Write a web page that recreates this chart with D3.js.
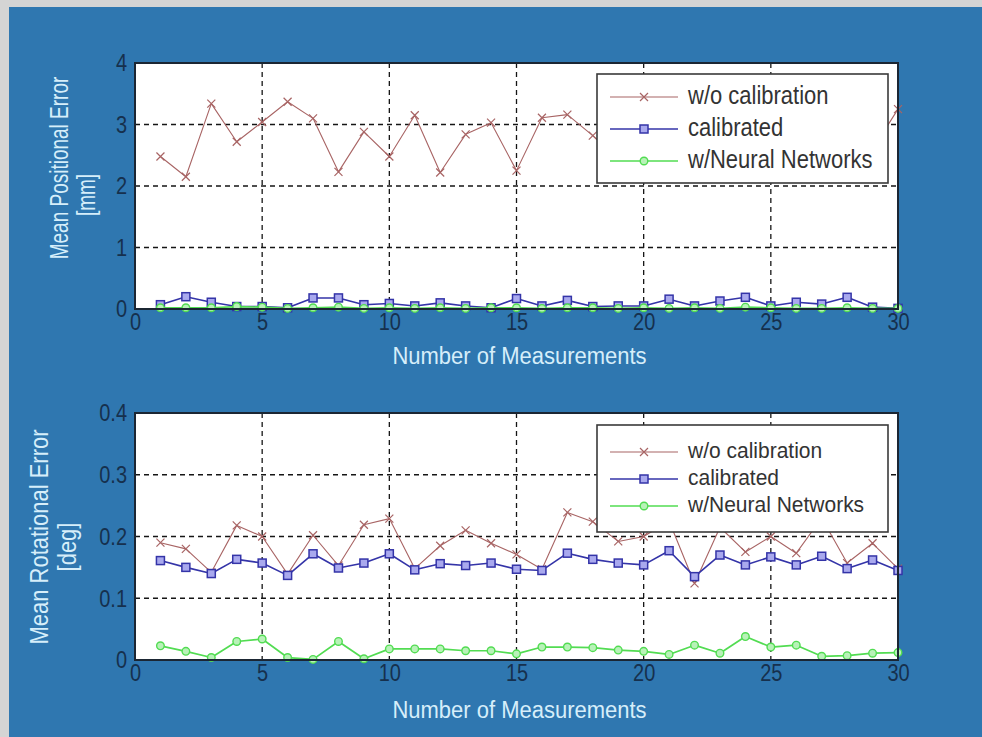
<!DOCTYPE html>
<html>
<head>
<meta charset="utf-8">
<script src="https://cdn.jsdelivr.net/npm/d3@7"></script>
<style>
  html, body { margin: 0; padding: 0; background: #d6d6d6; }
  svg { display: block; }
  text { font-family: Arial, "Liberation Sans", sans-serif; }
</style>
</head>
<body>
<svg id="chart" width="982" height="737"></svg>
<script>
// ---------------- data ----------------
const measurements = [1,2,3,4,5,6,7,8,9,10,11,12,13,14,15,16,17,18,19,20,21,22,23,24,25,26,27,28,29,30];
const seriesNames = ["w/o calibration", "calibrated", "w/Neural Networks"];

const posWithout    = [2.48,2.15,3.34,2.72,3.04,3.37,3.10,2.23,2.88,2.48,3.15,2.22,2.84,3.03,2.25,3.11,3.16,2.82,2.45,3.05,2.60,3.20,2.50,2.90,3.30,2.40,3.00,2.70,2.60,3.25];
const posCalibrated = [0.07,0.20,0.11,0.04,0.04,0.02,0.18,0.18,0.07,0.09,0.05,0.10,0.05,0.02,0.17,0.05,0.14,0.04,0.05,0.05,0.16,0.05,0.13,0.19,0.05,0.11,0.08,0.19,0.03,0.01];
const posNeural     = [0.02,0.02,0.02,0.04,0.03,0.01,0.02,0.03,0.01,0.02,0.01,0.02,0.01,0.02,0.02,0.01,0.02,0.02,0.01,0.02,0.01,0.02,0.01,0.03,0.02,0.01,0.01,0.02,0.01,0.01];

const rotWithout    = [0.190,0.180,0.142,0.218,0.200,0.139,0.202,0.153,0.219,0.229,0.148,0.185,0.210,0.189,0.171,0.147,0.239,0.224,0.192,0.200,0.225,0.124,0.215,0.175,0.200,0.173,0.230,0.157,0.189,0.148];
const rotCalibrated = [0.161,0.150,0.140,0.163,0.157,0.137,0.172,0.149,0.157,0.172,0.146,0.156,0.153,0.157,0.147,0.145,0.173,0.163,0.157,0.154,0.177,0.135,0.170,0.154,0.167,0.154,0.168,0.148,0.162,0.145];
const rotNeural     = [0.023,0.014,0.004,0.030,0.034,0.004,0.001,0.030,0.002,0.018,0.018,0.018,0.015,0.015,0.010,0.021,0.021,0.020,0.016,0.014,0.009,0.024,0.011,0.038,0.021,0.024,0.006,0.007,0.011,0.012];

const xTicks   = [0,5,10,15,20,25,30];
const posTicks = [0,1,2,3,4];
const rotTicks = [0,0.1,0.2,0.3,0.4];

// ---------------- styles ----------------
const seriesStyle = [
  { color: "#a86464", width: 1.1, marker: "x" },
  { color: "#3434a8", width: 1.6, marker: "s" },
  { color: "#52dc52", width: 1.7, marker: "o" }
];
const BLUE_BG = "#2f77b0";
const TICK_COLOR = "#16304d";
const LABEL_COLOR = "#d6eefa";
const STRETCH = 1.22;

const svg = d3.select("#chart");

// background panel
svg.append("rect").attr("x", 0).attr("y", 0).attr("width", 982).attr("height", 737).attr("fill", "#d4d4d4");
svg.append("rect").attr("x", 9).attr("y", 7).attr("width", 973).attr("height", 730).attr("fill", BLUE_BG);

function drawMarker(g, type, color) {
  if (type === "x") {
    g.append("path").attr("d", "M-4,-4L4,4M-4,4L4,-4")
      .attr("stroke", color).attr("stroke-width", 1.2).attr("fill", "none");
  } else if (type === "s") {
    g.append("rect").attr("x", -4).attr("y", -4).attr("width", 8).attr("height", 8)
      .attr("stroke", color).attr("stroke-width", 1.5).attr("fill", "#a9a9ee");
  } else {
    g.append("circle").attr("r", 3.8)
      .attr("stroke", color).attr("stroke-width", 1.4).attr("fill", "#b8f2b8");
  }
}

function drawPanel(cfg) {
  const left = 135, right = 898;
  const x = d3.scaleLinear().domain([0, 30]).range([left, right]);
  const y = d3.scaleLinear().domain([cfg.ticks[0], cfg.ticks[cfg.ticks.length - 1]]).range([cfg.bottom, cfg.top]);

  // plot area
  svg.append("rect").attr("x", left).attr("y", cfg.top)
    .attr("width", right - left).attr("height", cfg.bottom - cfg.top).attr("fill", "#ffffff");

  // grid
  const grid = svg.append("g");
  grid.selectAll(".vg").data(xTicks.slice(1, -1)).join("line")
    .attr("x1", d => x(d)).attr("x2", d => x(d))
    .attr("y1", cfg.top).attr("y2", cfg.bottom)
    .attr("stroke", "#151515").attr("stroke-width", 1.3).attr("stroke-dasharray", "5,4");
  grid.selectAll(".hg").data(cfg.ticks.slice(1, -1)).join("line")
    .attr("x1", left).attr("x2", right)
    .attr("y1", d => y(d)).attr("y2", d => y(d))
    .attr("stroke", "#151515").attr("stroke-width", 1.3).attr("stroke-dasharray", "5,4");

  // series
  const line = d3.line().x((d, i) => x(measurements[i])).y(d => y(d));
  cfg.series.forEach((vals, si) => {
    const st = seriesStyle[si];
    svg.append("path").datum(vals).attr("d", line)
      .attr("fill", "none").attr("stroke", st.color).attr("stroke-width", st.width)
      .attr("stroke-linejoin", "round");
    const mg = svg.append("g");
    vals.forEach((v, i) => {
      const g = mg.append("g").attr("transform", `translate(${x(measurements[i])},${y(v)})`);
      drawMarker(g, st.marker, st.color);
    });
  });

  // frame
  svg.append("rect").attr("x", left).attr("y", cfg.top)
    .attr("width", right - left).attr("height", cfg.bottom - cfg.top)
    .attr("fill", "none").attr("stroke", "#1b2633").attr("stroke-width", 2);

  // axes (labels only)
  const xa = svg.append("g").attr("transform", `translate(0,${cfg.bottom})`)
    .call(d3.axisBottom(x).tickValues(xTicks).tickSize(0).tickPadding(3).tickFormat(d => d));
  xa.select(".domain").remove();
  xa.selectAll("text").attr("fill", TICK_COLOR).attr("font-size", 20)
    .attr("font-family", "Arial, 'Liberation Sans', sans-serif")
    .attr("transform", `scale(1,${STRETCH})`);

  const ya = svg.append("g").attr("transform", `translate(${left},0)`)
    .call(d3.axisLeft(y).tickValues(cfg.ticks).tickSize(0).tickPadding(8).tickFormat(d => d));
  ya.select(".domain").remove();
  ya.selectAll("text").attr("fill", TICK_COLOR).attr("font-size", 20)
    .attr("font-family", "Arial, 'Liberation Sans', sans-serif")
    .attr("transform", `scale(1,${STRETCH})`);

  // x label
  svg.append("text")
    .attr("transform", `translate(${(left + right) / 2 + 3},${cfg.xlabelY}) scale(1,1.1)`)
    .attr("text-anchor", "middle").attr("dominant-baseline", "middle")
    .attr("fill", LABEL_COLOR).attr("font-size", 22).text("Number of Measurements");

  // y label (two lines)
  cfg.ylabel.forEach((t, i) => {
    svg.append("text")
      .attr("transform", `translate(${cfg.ylabelX[i]},${cfg.ylabelY[i]}) rotate(-90) scale(1,${cfg.ylabelStretch})`)
      .attr("text-anchor", "middle").attr("dominant-baseline", "middle")
      .attr("fill", LABEL_COLOR).attr("font-size", cfg.ylabelSize).text(t);
  });

  // legend
  const L = cfg.legend;
  svg.append("rect").attr("x", 597).attr("y", L.top).attr("width", 291).attr("height", L.height)
    .attr("fill", "#ffffff").attr("stroke", "#3a3a3a").attr("stroke-width", 1.6);
  seriesNames.forEach((name, si) => {
    const st = seriesStyle[si];
    const ry = L.rows[si];
    svg.append("line").attr("x1", 610).attr("x2", 678).attr("y1", ry).attr("y2", ry)
      .attr("stroke", st.color).attr("stroke-width", st.width);
    const g = svg.append("g").attr("transform", `translate(644,${ry})`);
    drawMarker(g, st.marker, st.color);
    svg.append("text").attr("transform", `translate(688,${ry}) scale(1,${L.stretch})`)
      .attr("dominant-baseline", "middle")
      .attr("fill", "#333333").attr("font-size", L.size).text(name);
  });
}

drawPanel({
  top: 63, bottom: 309,
  ticks: posTicks,
  series: [posWithout, posCalibrated, posNeural],
  xlabelY: 358,
  ylabel: ["Mean Positional Error", "[mm]"],
  ylabelX: [61, 88], ylabelY: [168, 195], ylabelSize: 19, ylabelStretch: 1.35,
  legend: { top: 74, height: 109, rows: [97, 129, 161], size: 22, stretch: 1.2 }
});

drawPanel({
  top: 413, bottom: 660,
  ticks: rotTicks,
  series: [rotWithout, rotCalibrated, rotNeural],
  xlabelY: 712,
  ylabel: ["Mean Rotational Error", "[deg]"],
  ylabelX: [41, 69], ylabelY: [537, 547], ylabelSize: 22, ylabelStretch: 1.15,
  legend: { top: 425, height: 107, rows: [452, 479, 506], size: 21, stretch: 1.08 }
});
</script>
</body>
</html>
